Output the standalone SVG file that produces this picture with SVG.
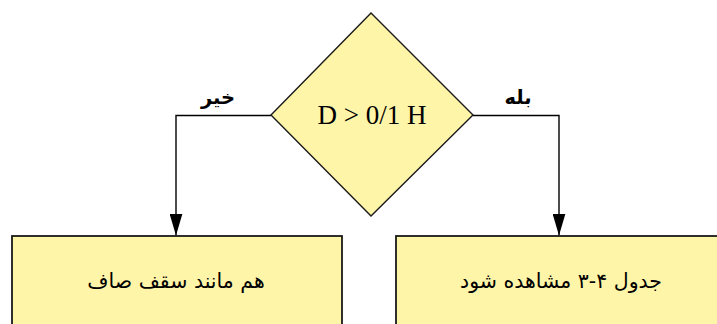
<svg xmlns="http://www.w3.org/2000/svg" width="717" height="324" viewBox="0 0 717 324">
<style>
.shape{fill:#fff5a8;stroke:#1a1a1a;stroke-width:1.8}
.conn{fill:none;stroke:#000;stroke-width:1.4}
.fa{font-family:"DejaVu Sans","Noto Sans",sans-serif;font-size:20.5px;fill:#000;text-anchor:middle}
.lbl{font-family:"DejaVu Sans","Noto Sans",sans-serif;font-size:19.5px;font-weight:bold;fill:#000;text-anchor:middle}
.en{font-family:"Liberation Serif",serif;font-size:27px;fill:#000;text-anchor:middle}
</style>
<defs>
<marker id="arr" markerWidth="22" markerHeight="13" refX="22" refY="6.5" orient="auto" markerUnits="userSpaceOnUse" viewBox="0 0 22 13">
<path d="M0,0 L22,6.5 L0,13 Z" fill="#000"/>
</marker>
</defs>
<rect width="717" height="324" fill="#fff"/>
<g id="connectors">
<path class="conn" d="M271,115.5 H176 V235.5" marker-end="url(#arr)"/>
<path class="conn" d="M473,115.5 H559 V235.5" marker-end="url(#arr)"/>
<text class="lbl" x="218" y="104" direction="rtl">خیر</text>
<text class="lbl" x="518" y="104" direction="rtl">بله</text>
</g>
<g id="decision">
<polygon class="shape" points="371,13 473,115 371,216 271,115" style="stroke-width:1.4"/>
<text class="en" x="372" y="124">D &gt; 0/1 H</text>
</g>
<g id="no-box">
<rect class="shape" x="12" y="236" width="330" height="100"/>
<text class="fa" x="176" y="288" direction="rtl">هم مانند سقف صاف</text>
</g>
<g id="yes-box">
<rect class="shape" x="396" y="236" width="330" height="100"/>
<text class="fa" x="561" y="288" direction="rtl">جدول ۴-۳ مشاهده شود</text>
</g>
</svg>
